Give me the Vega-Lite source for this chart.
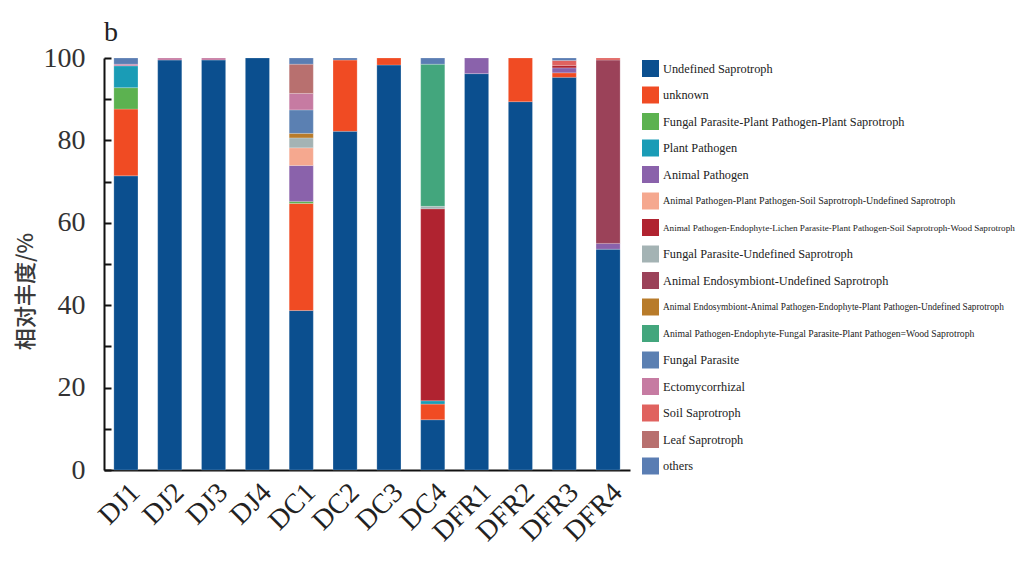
{
  "$schema": "https://vega.github.io/schema/vega-lite/v6.json",
  "autosize": "none",
  "width": 526,
  "height": 412,
  "padding": {"left": 104, "top": 58, "right": 389, "bottom": 100},
  "background": "white",
  "title": {"text": "b", "anchor": "start", "frame": "group", "font": "Liberation Serif", "fontSize": 28, "fontWeight": "normal", "color": "#222", "offset": -3},
  "config": {"view": {"stroke": null}, "legend": {"title": null, "orient": "none", "legendX": 538, "symbolType": "square", "symbolSize": 289, "symbolStrokeWidth": 0, "rowPadding": 9.5, "labelOffset": 4, "labelLimit": 500, "labelFont": "Liberation Serif", "labelColor": "#222"}},
  "data": {"values": [
    {"sample": "DJ1", "type": "Undefined Saprotroph", "rank": 0, "value": 71.4},
    {"sample": "DJ1", "type": "unknown", "rank": 1, "value": 16.2},
    {"sample": "DJ1", "type": "Fungal Parasite-Plant Pathogen-Plant Saprotroph", "rank": 2, "value": 5.2},
    {"sample": "DJ1", "type": "Plant Pathogen", "rank": 3, "value": 5.3},
    {"sample": "DJ1", "type": "Ectomycorrhizal", "rank": 12, "value": 0.4},
    {"sample": "DJ1", "type": "others", "rank": 15, "value": 1.5},
    {"sample": "DJ2", "type": "Undefined Saprotroph", "rank": 0, "value": 99.5},
    {"sample": "DJ2", "type": "Ectomycorrhizal", "rank": 12, "value": 0.5},
    {"sample": "DJ3", "type": "Undefined Saprotroph", "rank": 0, "value": 99.5},
    {"sample": "DJ3", "type": "Ectomycorrhizal", "rank": 12, "value": 0.5},
    {"sample": "DJ4", "type": "Undefined Saprotroph", "rank": 0, "value": 100},
    {"sample": "DC1", "type": "Undefined Saprotroph", "rank": 0, "value": 38.7},
    {"sample": "DC1", "type": "unknown", "rank": 1, "value": 26.0},
    {"sample": "DC1", "type": "Fungal Parasite-Plant Pathogen-Plant Saprotroph", "rank": 2, "value": 0.5},
    {"sample": "DC1", "type": "Animal Pathogen", "rank": 4, "value": 8.7},
    {"sample": "DC1", "type": "Animal Pathogen-Plant Pathogen-Soil Saprotroph-Undefined Saprotroph", "rank": 5, "value": 4.3},
    {"sample": "DC1", "type": "Fungal Parasite-Undefined Saprotroph", "rank": 7, "value": 2.4},
    {"sample": "DC1", "type": "Animal Endosymbiont-Animal Pathogen-Endophyte-Plant Pathogen-Undefined Saprotroph", "rank": 9, "value": 1.1},
    {"sample": "DC1", "type": "Fungal Parasite", "rank": 11, "value": 5.7},
    {"sample": "DC1", "type": "Ectomycorrhizal", "rank": 12, "value": 4.0},
    {"sample": "DC1", "type": "Leaf Saprotroph", "rank": 14, "value": 7.1},
    {"sample": "DC1", "type": "others", "rank": 15, "value": 1.5},
    {"sample": "DC2", "type": "Undefined Saprotroph", "rank": 0, "value": 82.2},
    {"sample": "DC2", "type": "unknown", "rank": 1, "value": 17.3},
    {"sample": "DC2", "type": "others", "rank": 15, "value": 0.5},
    {"sample": "DC3", "type": "Undefined Saprotroph", "rank": 0, "value": 98.3},
    {"sample": "DC3", "type": "unknown", "rank": 1, "value": 1.7},
    {"sample": "DC4", "type": "Undefined Saprotroph", "rank": 0, "value": 12.2},
    {"sample": "DC4", "type": "unknown", "rank": 1, "value": 3.8},
    {"sample": "DC4", "type": "Plant Pathogen", "rank": 3, "value": 0.8},
    {"sample": "DC4", "type": "Animal Pathogen-Endophyte-Lichen Parasite-Plant Pathogen-Soil Saprotroph-Wood Saprotroph", "rank": 6, "value": 46.6},
    {"sample": "DC4", "type": "Fungal Parasite-Undefined Saprotroph", "rank": 7, "value": 0.6},
    {"sample": "DC4", "type": "Animal Pathogen-Endophyte-Fungal Parasite-Plant Pathogen=Wood Saprotroph", "rank": 10, "value": 34.5},
    {"sample": "DC4", "type": "others", "rank": 15, "value": 1.5},
    {"sample": "DFR1", "type": "Undefined Saprotroph", "rank": 0, "value": 96.2},
    {"sample": "DFR1", "type": "Animal Pathogen", "rank": 4, "value": 3.8},
    {"sample": "DFR2", "type": "Undefined Saprotroph", "rank": 0, "value": 89.4},
    {"sample": "DFR2", "type": "unknown", "rank": 1, "value": 10.6},
    {"sample": "DFR3", "type": "Undefined Saprotroph", "rank": 0, "value": 95.3},
    {"sample": "DFR3", "type": "unknown", "rank": 1, "value": 1.1},
    {"sample": "DFR3", "type": "Animal Pathogen", "rank": 4, "value": 1.2},
    {"sample": "DFR3", "type": "Animal Pathogen-Endophyte-Lichen Parasite-Plant Pathogen-Soil Saprotroph-Wood Saprotroph", "rank": 6, "value": 0.6},
    {"sample": "DFR3", "type": "Soil Saprotroph", "rank": 13, "value": 1.2},
    {"sample": "DFR3", "type": "others", "rank": 15, "value": 0.6},
    {"sample": "DFR4", "type": "Undefined Saprotroph", "rank": 0, "value": 53.6},
    {"sample": "DFR4", "type": "Animal Pathogen", "rank": 4, "value": 1.4},
    {"sample": "DFR4", "type": "Animal Endosymbiont-Undefined Saprotroph", "rank": 8, "value": 44.5},
    {"sample": "DFR4", "type": "Soil Saprotroph", "rank": 13, "value": 0.5}
  ]},
  "encoding": {
    "x": {
      "field": "sample", "type": "nominal",
      "sort": ["DJ1", "DJ2", "DJ3", "DJ4", "DC1", "DC2", "DC3", "DC4", "DFR1", "DFR2", "DFR3", "DFR4"],
      "scale": {"paddingInner": 0.45, "paddingOuter": 0.225},
      "axis": {"title": null, "labelAngle": -45, "labelFont": "Liberation Serif", "labelFontSize": 28, "labelColor": "#222", "ticks": false, "labelPadding": 8, "domainColor": "#111", "domainWidth": 2}
    },
    "y": {
      "field": "value", "type": "quantitative", "stack": "zero",
      "scale": {"domain": [0, 100], "nice": false},
      "axis": {
        "title": "相对丰度/%", "titleFont": "Noto Sans CJK SC", "titleFontSize": 22, "titleFontWeight": 500, "titleColor": "#3a3a3a", "titlePadding": 6, "titleY": 233,
        "values": [0, 10, 20, 30, 40, 50, 60, 70, 80, 90, 100],
        "labelExpr": "datum.value % 20 === 0 ? datum.label : ''",
        "labelFont": "Liberation Serif", "labelFontSize": 28, "labelColor": "#333", "labelPadding": 26,
        "tickSize": -7, "tickColor": "#111", "tickWidth": 2,
        "grid": false, "domainColor": "#111", "domainWidth": 2
      }
    },
    "order": {"field": "rank", "type": "quantitative", "sort": "ascending"}
  },
  "layer": [
    {
      "mark": {"type": "bar", "stroke": "white", "strokeWidth": 0.4, "strokeOpacity": 0.5},
      "encoding": {
        "color": {
          "field": "type", "type": "nominal",
          "scale": {
            "domain": ["Undefined Saprotroph", "unknown", "Fungal Parasite-Plant Pathogen-Plant Saprotroph", "Plant Pathogen", "Animal Pathogen", "Animal Pathogen-Plant Pathogen-Soil Saprotroph-Undefined Saprotroph", "Animal Pathogen-Endophyte-Lichen Parasite-Plant Pathogen-Soil Saprotroph-Wood Saprotroph", "Fungal Parasite-Undefined Saprotroph", "Animal Endosymbiont-Undefined Saprotroph", "Animal Endosymbiont-Animal Pathogen-Endophyte-Plant Pathogen-Undefined Saprotroph", "Animal Pathogen-Endophyte-Fungal Parasite-Plant Pathogen=Wood Saprotroph", "Fungal Parasite", "Ectomycorrhizal", "Soil Saprotroph", "Leaf Saprotroph", "others"],
            "range": ["#0b4f8f", "#f04b23", "#5cb250", "#1a9cb6", "#8a62ab", "#f5a88f", "#b02330", "#a4b3b4", "#9b4259", "#b87b2a", "#43a67d", "#5b80b2", "#c67ba2", "#e0625f", "#b8706f", "#5a7db3"]
          },
          "legend": {"legendY": 2, "labelFontSize": 12.3, "symbolOpacity": 1, "labelExpr": "length(datum.label) > 60 ? '' : datum.label"}
        }
      }
    },
    {
      "transform": [{"filter": "datum.type === 'Animal Pathogen-Plant Pathogen-Soil Saprotroph-Undefined Saprotroph'"}],
      "mark": {"type": "bar", "opacity": 0},
      "encoding": {"color": {"field": "type", "type": "nominal", "scale": {"domain": ["Animal Pathogen-Plant Pathogen-Soil Saprotroph-Undefined Saprotroph"], "range": ["#f5a88f"]}, "legend": {"legendY": 134.5, "labelFontSize": 10, "symbolOpacity": 0}}}
    },
    {
      "transform": [{"filter": "datum.type === 'Animal Pathogen-Endophyte-Lichen Parasite-Plant Pathogen-Soil Saprotroph-Wood Saprotroph'"}],
      "mark": {"type": "bar", "opacity": 0},
      "encoding": {"color": {"field": "type", "type": "nominal", "scale": {"domain": ["Animal Pathogen-Endophyte-Lichen Parasite-Plant Pathogen-Soil Saprotroph-Wood Saprotroph"], "range": ["#b02330"]}, "legend": {"legendY": 161, "labelFontSize": 9.15, "symbolOpacity": 0}}}
    },
    {
      "transform": [{"filter": "datum.type === 'Animal Endosymbiont-Animal Pathogen-Endophyte-Plant Pathogen-Undefined Saprotroph'"}],
      "mark": {"type": "bar", "opacity": 0},
      "encoding": {"color": {"field": "type", "type": "nominal", "scale": {"domain": ["Animal Endosymbiont-Animal Pathogen-Endophyte-Plant Pathogen-Undefined Saprotroph"], "range": ["#b87b2a"]}, "legend": {"legendY": 240.5, "labelFontSize": 9.3, "symbolOpacity": 0}}}
    },
    {
      "transform": [{"filter": "datum.type === 'Animal Pathogen-Endophyte-Fungal Parasite-Plant Pathogen=Wood Saprotroph'"}],
      "mark": {"type": "bar", "opacity": 0},
      "encoding": {"color": {"field": "type", "type": "nominal", "scale": {"domain": ["Animal Pathogen-Endophyte-Fungal Parasite-Plant Pathogen=Wood Saprotroph"], "range": ["#43a67d"]}, "legend": {"legendY": 267, "labelFontSize": 9.7, "symbolOpacity": 0}}}
    }
  ],
  "resolve": {"scale": {"color": "independent"}, "legend": {"color": "independent"}}
}
